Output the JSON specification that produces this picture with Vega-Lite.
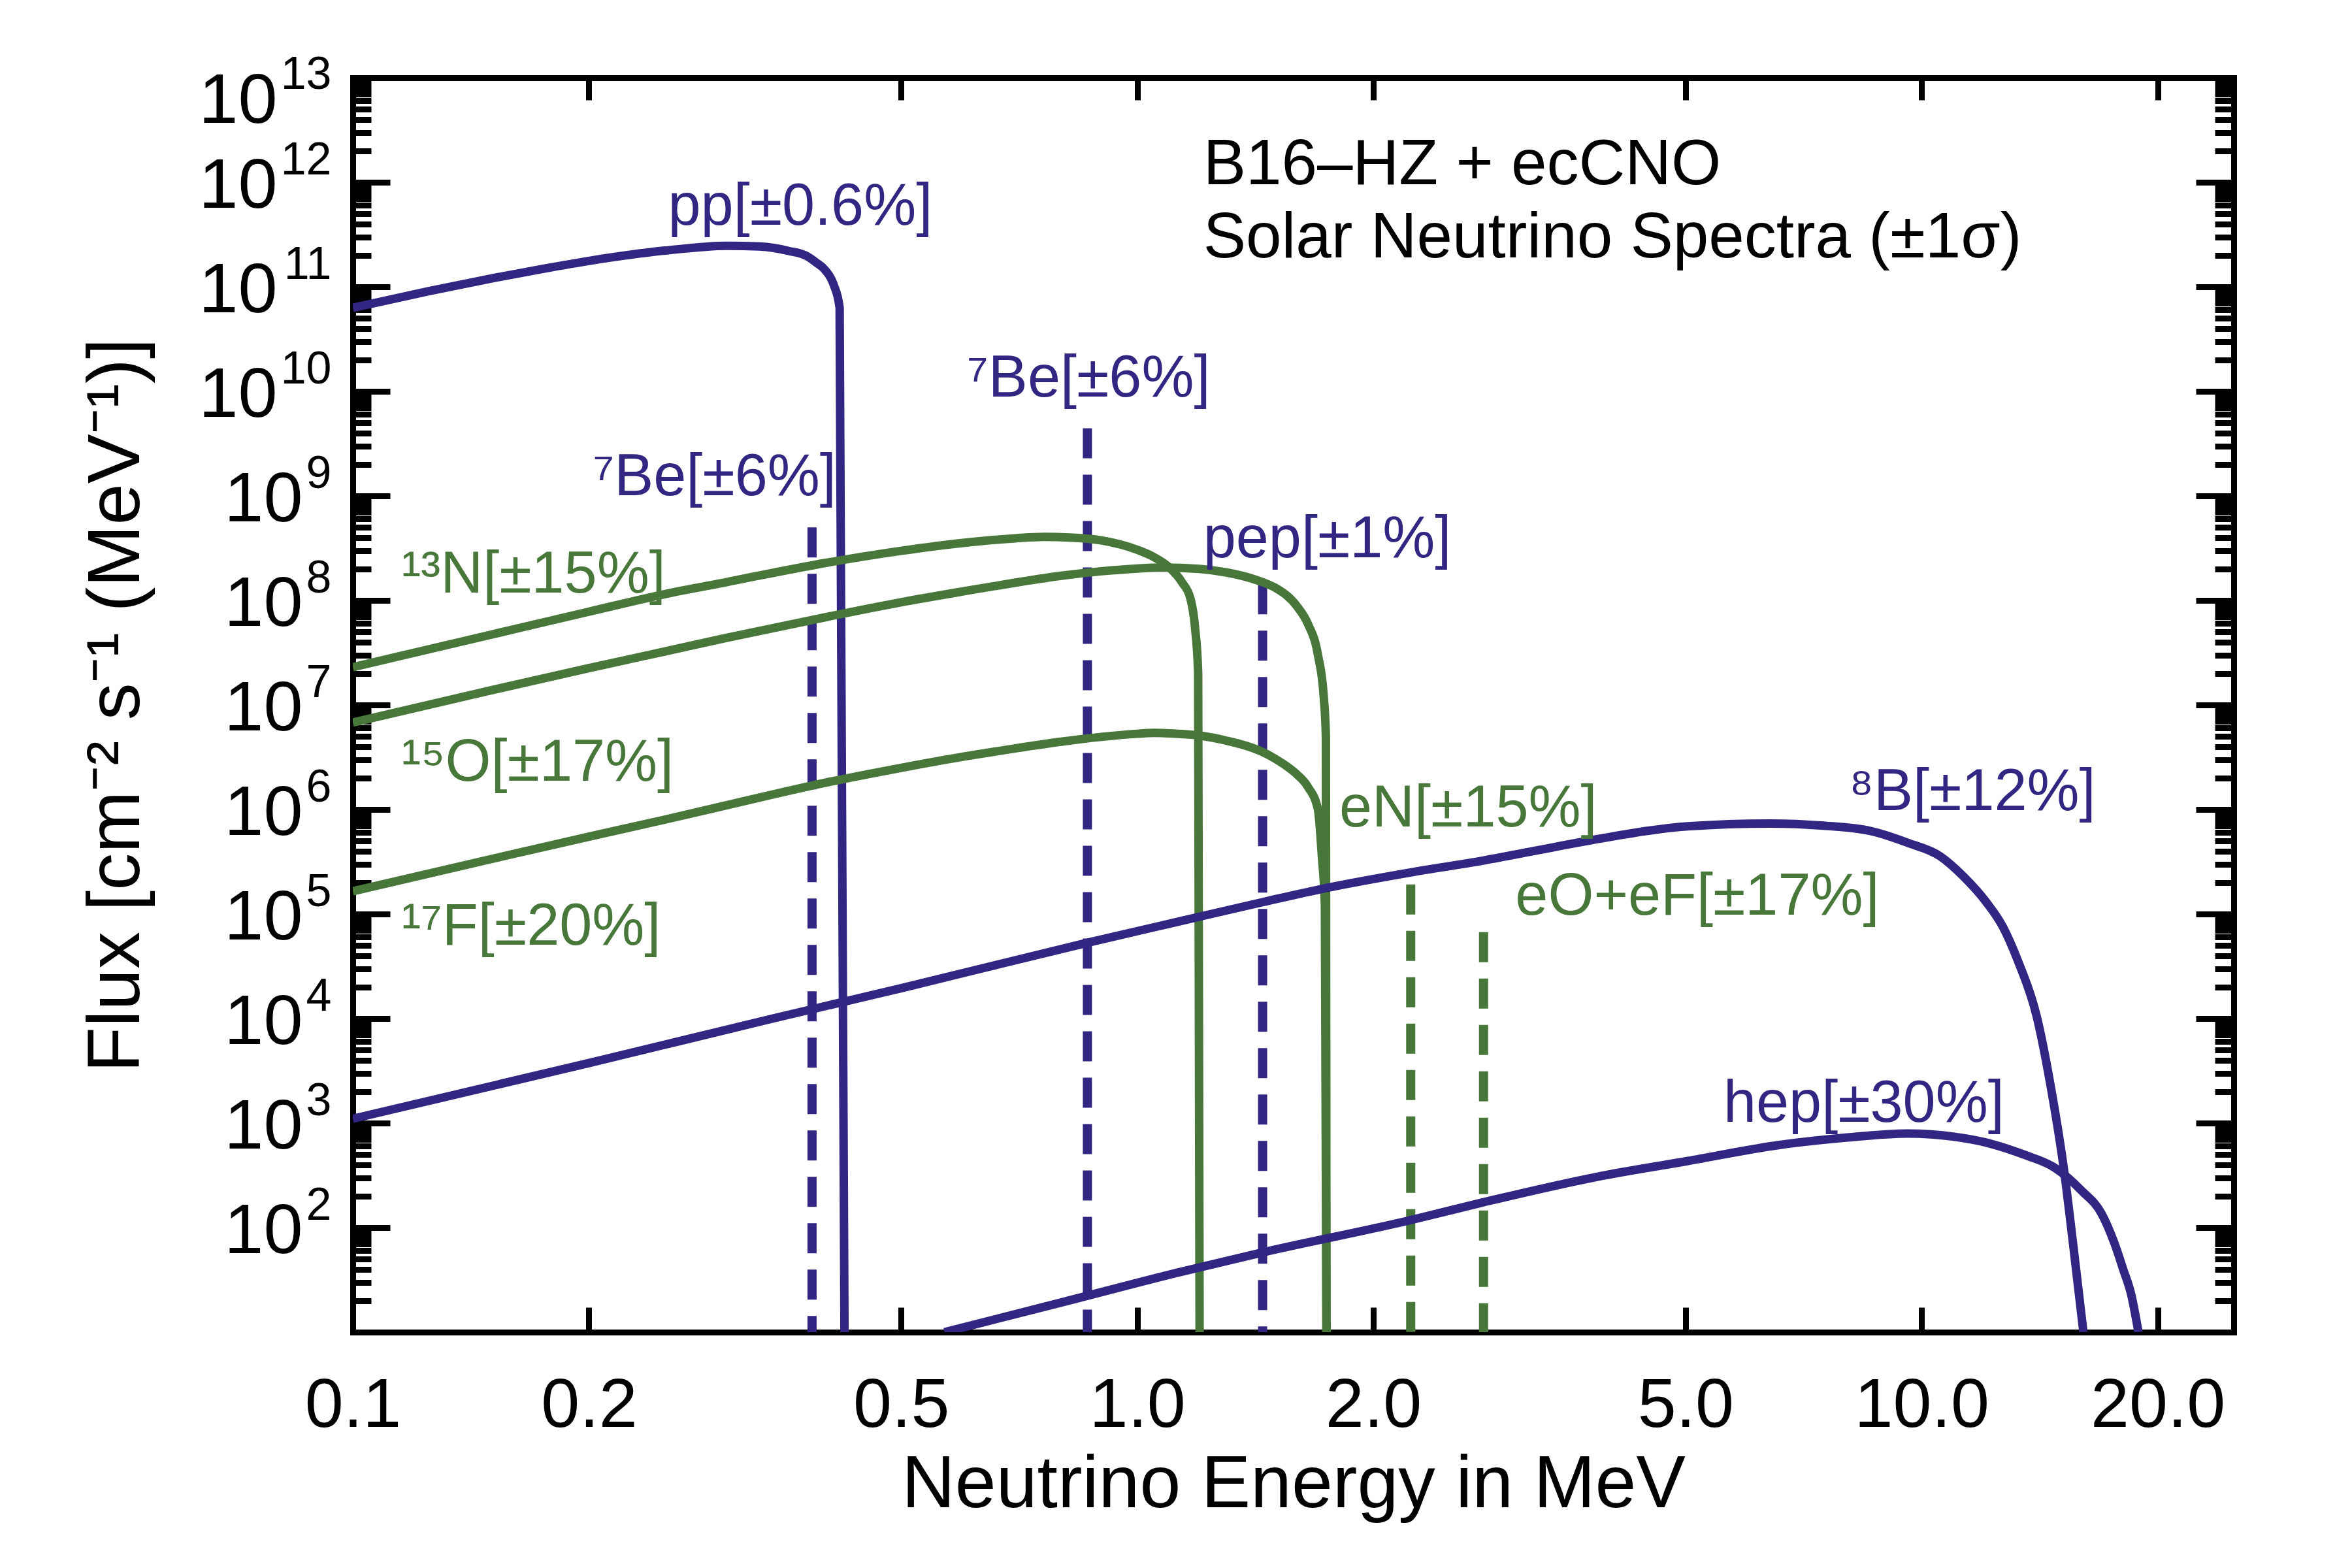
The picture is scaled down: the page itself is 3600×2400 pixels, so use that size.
{
  "$schema": "https://vega.github.io/schema/vega-lite/v6.json",
  "width": 2879,
  "height": 1920,
  "autosize": {"type": "none"},
  "padding": {"left": 540, "top": 119, "right": 181, "bottom": 361},
  "background": "white",
  "config": {
    "view": {"stroke": null},
    "font": "Liberation Sans",
    "axis": {
      "grid": false,
      "domainColor": "black",
      "domainWidth": 9,
      "domainCap": "square",
      "tickColor": "black",
      "tickWidth": 9,
      "labelColor": "black",
      "labelFont": "Liberation Sans",
      "titleFont": "Liberation Sans",
      "titleColor": "black",
      "titleFontWeight": "normal",
      "labelFlush": false,
      "labelOverlap": false,
      "labelBound": false,
      "labelLimit": 0,
      "titleLimit": 0
    }
  },
  "datasets": {
    "curves": [
      {"series": "pp", "group": "pp", "E": 0.1, "F": 6.3e10},
      {"series": "pp", "group": "pp", "E": 0.125, "F": 9.1e10},
      {"series": "pp", "group": "pp", "E": 0.15, "F": 1.2e11},
      {"series": "pp", "group": "pp", "E": 0.175, "F": 1.49e11},
      {"series": "pp", "group": "pp", "E": 0.2, "F": 1.77e11},
      {"series": "pp", "group": "pp", "E": 0.25, "F": 2.22e11},
      {"series": "pp", "group": "pp", "E": 0.3, "F": 2.47e11},
      {"series": "pp", "group": "pp", "E": 0.33, "F": 2.43e11},
      {"series": "pp", "group": "pp", "E": 0.36, "F": 2.2e11},
      {"series": "pp", "group": "pp", "E": 0.38, "F": 1.95e11},
      {"series": "pp", "group": "pp", "E": 0.39, "F": 1.7e11},
      {"series": "pp", "group": "pp", "E": 0.4, "F": 1.45e11},
      {"series": "pp", "group": "pp", "E": 0.41, "F": 1.06e11},
      {"series": "pp", "group": "pp", "E": 0.4175, "F": 6.3e10},
      {"series": "pp", "group": "pp", "E": 0.4235, "F": 10},

      {"series": "13N", "group": "CNO", "E": 0.1, "F": 2.3e7},
      {"series": "13N", "group": "CNO", "E": 0.15, "F": 4.7e7},
      {"series": "13N", "group": "CNO", "E": 0.2, "F": 7.8e7},
      {"series": "13N", "group": "CNO", "E": 0.25, "F": 1.15e8},
      {"series": "13N", "group": "CNO", "E": 0.3, "F": 1.5e8},
      {"series": "13N", "group": "CNO", "E": 0.4, "F": 2.28e8},
      {"series": "13N", "group": "CNO", "E": 0.5, "F": 2.98e8},
      {"series": "13N", "group": "CNO", "E": 0.6, "F": 3.55e8},
      {"series": "13N", "group": "CNO", "E": 0.7, "F": 3.93e8},
      {"series": "13N", "group": "CNO", "E": 0.76, "F": 4.05e8},
      {"series": "13N", "group": "CNO", "E": 0.82, "F": 4.0e8},
      {"series": "13N", "group": "CNO", "E": 0.9, "F": 3.75e8},
      {"series": "13N", "group": "CNO", "E": 1.0, "F": 3.05e8},
      {"series": "13N", "group": "CNO", "E": 1.05, "F": 2.6e8},
      {"series": "13N", "group": "CNO", "E": 1.1, "F": 2.05e8},
      {"series": "13N", "group": "CNO", "E": 1.14, "F": 1.5e8},
      {"series": "13N", "group": "CNO", "E": 1.17, "F": 1.02e8},
      {"series": "13N", "group": "CNO", "E": 1.185, "F": 5.5e7},
      {"series": "13N", "group": "CNO", "E": 1.196, "F": 2.0e7},
      {"series": "13N", "group": "CNO", "E": 1.201, "F": 10},

      {"series": "15O", "group": "CNO", "E": 0.1, "F": 6.8e6},
      {"series": "15O", "group": "CNO", "E": 0.15, "F": 1.38e7},
      {"series": "15O", "group": "CNO", "E": 0.2, "F": 2.25e7},
      {"series": "15O", "group": "CNO", "E": 0.25, "F": 3.25e7},
      {"series": "15O", "group": "CNO", "E": 0.3, "F": 4.4e7},
      {"series": "15O", "group": "CNO", "E": 0.4, "F": 6.9e7},
      {"series": "15O", "group": "CNO", "E": 0.5, "F": 9.6e7},
      {"series": "15O", "group": "CNO", "E": 0.6, "F": 1.22e8},
      {"series": "15O", "group": "CNO", "E": 0.7, "F": 1.48e8},
      {"series": "15O", "group": "CNO", "E": 0.8, "F": 1.72e8},
      {"series": "15O", "group": "CNO", "E": 0.9, "F": 1.9e8},
      {"series": "15O", "group": "CNO", "E": 1.0, "F": 2.02e8},
      {"series": "15O", "group": "CNO", "E": 1.08, "F": 2.06e8},
      {"series": "15O", "group": "CNO", "E": 1.2, "F": 2.0e8},
      {"series": "15O", "group": "CNO", "E": 1.3, "F": 1.85e8},
      {"series": "15O", "group": "CNO", "E": 1.4, "F": 1.62e8},
      {"series": "15O", "group": "CNO", "E": 1.45, "F": 1.48e8},
      {"series": "15O", "group": "CNO", "E": 1.5, "F": 1.32e8},
      {"series": "15O", "group": "CNO", "E": 1.6, "F": 8.7e7},
      {"series": "15O", "group": "CNO", "E": 1.65, "F": 6.0e7},
      {"series": "15O", "group": "CNO", "E": 1.7, "F": 3.0e7},
      {"series": "15O", "group": "CNO", "E": 1.729, "F": 1.2e7},
      {"series": "15O", "group": "CNO", "E": 1.74, "F": 5e6},
      {"series": "15O", "group": "CNO", "E": 1.743, "F": 10},

      {"series": "17F", "group": "CNO", "E": 0.1, "F": 1.65e5},
      {"series": "17F", "group": "CNO", "E": 0.15, "F": 3.35e5},
      {"series": "17F", "group": "CNO", "E": 0.2, "F": 5.5e5},
      {"series": "17F", "group": "CNO", "E": 0.25, "F": 8.0e5},
      {"series": "17F", "group": "CNO", "E": 0.3, "F": 1.1e6},
      {"series": "17F", "group": "CNO", "E": 0.4, "F": 1.8e6},
      {"series": "17F", "group": "CNO", "E": 0.5, "F": 2.5e6},
      {"series": "17F", "group": "CNO", "E": 0.6, "F": 3.2e6},
      {"series": "17F", "group": "CNO", "E": 0.7, "F": 3.85e6},
      {"series": "17F", "group": "CNO", "E": 0.8, "F": 4.45e6},
      {"series": "17F", "group": "CNO", "E": 0.9, "F": 4.95e6},
      {"series": "17F", "group": "CNO", "E": 1.0, "F": 5.3e6},
      {"series": "17F", "group": "CNO", "E": 1.05, "F": 5.4e6},
      {"series": "17F", "group": "CNO", "E": 1.1, "F": 5.35e6},
      {"series": "17F", "group": "CNO", "E": 1.2, "F": 5.1e6},
      {"series": "17F", "group": "CNO", "E": 1.3, "F": 4.55e6},
      {"series": "17F", "group": "CNO", "E": 1.4, "F": 3.9e6},
      {"series": "17F", "group": "CNO", "E": 1.45, "F": 3.5e6},
      {"series": "17F", "group": "CNO", "E": 1.5, "F": 3.05e6},
      {"series": "17F", "group": "CNO", "E": 1.55, "F": 2.6e6},
      {"series": "17F", "group": "CNO", "E": 1.6, "F": 2.15e6},
      {"series": "17F", "group": "CNO", "E": 1.65, "F": 1.65e6},
      {"series": "17F", "group": "CNO", "E": 1.7, "F": 1.0e6},
      {"series": "17F", "group": "CNO", "E": 1.72, "F": 3.5e5},
      {"series": "17F", "group": "CNO", "E": 1.735, "F": 1.2e5},
      {"series": "17F", "group": "CNO", "E": 1.743, "F": 10},

      {"series": "8B", "group": "pp", "E": 0.1, "F": 1.1e3},
      {"series": "8B", "group": "pp", "E": 0.2, "F": 3.75e3},
      {"series": "8B", "group": "pp", "E": 0.343, "F": 1.0e4},
      {"series": "8B", "group": "pp", "E": 0.5, "F": 1.95e4},
      {"series": "8B", "group": "pp", "E": 0.863, "F": 5.3e4},
      {"series": "8B", "group": "pp", "E": 1.124, "F": 8.4e4},
      {"series": "8B", "group": "pp", "E": 1.446, "F": 1.3e5},
      {"series": "8B", "group": "pp", "E": 1.74, "F": 1.77e5},
      {"series": "8B", "group": "pp", "E": 2.232, "F": 2.5e5},
      {"series": "8B", "group": "pp", "E": 2.764, "F": 3.25e5},
      {"series": "8B", "group": "pp", "E": 3.2, "F": 4.0e5},
      {"series": "8B", "group": "pp", "E": 3.8, "F": 5.1e5},
      {"series": "8B", "group": "pp", "E": 5.035, "F": 6.9e5},
      {"series": "8B", "group": "pp", "E": 6.4, "F": 7.35e5},
      {"series": "8B", "group": "pp", "E": 7.5, "F": 7.0e5},
      {"series": "8B", "group": "pp", "E": 8.63, "F": 6.2e5},
      {"series": "8B", "group": "pp", "E": 9.6, "F": 4.8e5},
      {"series": "8B", "group": "pp", "E": 10.56, "F": 3.57e5},
      {"series": "8B", "group": "pp", "E": 11.3, "F": 2.3e5},
      {"series": "8B", "group": "pp", "E": 12.09, "F": 1.3e5},
      {"series": "8B", "group": "pp", "E": 12.7, "F": 7.5e4},
      {"series": "8B", "group": "pp", "E": 13.28, "F": 3.5e4},
      {"series": "8B", "group": "pp", "E": 14.02, "F": 1.05e4},
      {"series": "8B", "group": "pp", "E": 14.6, "F": 2.3e3},
      {"series": "8B", "group": "pp", "E": 15.19, "F": 355},
      {"series": "8B", "group": "pp", "E": 15.61, "F": 67},
      {"series": "8B", "group": "pp", "E": 16.08, "F": 10},

      {"series": "hep", "group": "pp", "E": 0.568, "F": 10},
      {"series": "hep", "group": "pp", "E": 0.8, "F": 19.2},
      {"series": "hep", "group": "pp", "E": 1.124, "F": 37},
      {"series": "hep", "group": "pp", "E": 1.446, "F": 58},
      {"series": "hep", "group": "pp", "E": 2.232, "F": 118},
      {"series": "hep", "group": "pp", "E": 2.764, "F": 175},
      {"series": "hep", "group": "pp", "E": 3.846, "F": 305},
      {"series": "hep", "group": "pp", "E": 5.035, "F": 434},
      {"series": "hep", "group": "pp", "E": 6.59, "F": 618},
      {"series": "hep", "group": "pp", "E": 8.0, "F": 725},
      {"series": "hep", "group": "pp", "E": 9.6, "F": 794},
      {"series": "hep", "group": "pp", "E": 11.0, "F": 740},
      {"series": "hep", "group": "pp", "E": 12.09, "F": 650},
      {"series": "hep", "group": "pp", "E": 13.5, "F": 500},
      {"series": "hep", "group": "pp", "E": 14.8, "F": 372},
      {"series": "hep", "group": "pp", "E": 16.0, "F": 225},
      {"series": "hep", "group": "pp", "E": 16.96, "F": 136},
      {"series": "hep", "group": "pp", "E": 17.6, "F": 72},
      {"series": "hep", "group": "pp", "E": 18.07, "F": 40},
      {"series": "hep", "group": "pp", "E": 18.5, "F": 23},
      {"series": "hep", "group": "pp", "E": 18.9, "F": 10}
    ],
    "lines": [
      {"line": "7Be 0.384", "group": "pp", "E": 0.385, "F": 5.0e8},
      {"line": "7Be 0.862", "group": "pp", "E": 0.864, "F": 4.44e9},
      {"line": "pep", "group": "pp", "E": 1.445, "F": 1.43e8},
      {"line": "eN", "group": "CNO", "E": 2.232, "F": 1.92e5},
      {"line": "eO+eF", "group": "CNO", "E": 2.764, "F": 6.7e4}
    ],
    "labels": [
      {"label": "pp[±0.6%]", "group": "pp", "E": 0.2523, "F": 3.93e11},
      {"label": "⁷Be[±6%]", "group": "pp", "E": 0.2024, "F": 1.02e9},
      {"label": "⁷Be[±6%]", "group": "pp", "E": 0.607, "F": 8.9e9},
      {"label": "pep[±1%]", "group": "pp", "E": 1.214, "F": 2.6e8},
      {"label": "¹³N[±15%]", "group": "CNO", "E": 0.1153, "F": 1.19e8},
      {"label": "¹⁵O[±17%]", "group": "CNO", "E": 0.1153, "F": 1.88e6},
      {"label": "¹⁷F[±20%]", "group": "CNO", "E": 0.1153, "F": 5.08e4},
      {"label": "eN[±15%]", "group": "CNO", "E": 1.81, "F": 6.9e5},
      {"label": "eO+eF[±17%]", "group": "CNO", "E": 3.034, "F": 9.9e4},
      {"label": "⁸B[±12%]", "group": "pp", "E": 8.08, "F": 9.8e5},
      {"label": "hep[±30%]", "group": "pp", "E": 5.59, "F": 1.03e3}
    ],
    "notes": [
      {"text": "B16–HZ + ecCNO", "E": 1.214, "F": 9.57e11},
      {"text": "Solar Neutrino Spectra (±1σ)", "E": 1.214, "F": 1.91e11}
    ]
  },
  "resolve": {"axis": {"x": "independent", "y": "independent"}},
  "layer": [
    {
      "data": {"name": "lines"},
      "mark": {"type": "rule", "strokeWidth": 14, "strokeDash": [46, 25]},
      "encoding": {
        "x": {
          "field": "E", "type": "quantitative",
          "scale": {"type": "log", "domain": [0.1, 25], "nice": false},
          "axis": {"orient": "top", "values": [0.2, 0.5, 1, 2, 5, 10, 20], "labels": false, "tickSize": -34, "title": null}
        },
        "y": {"field": "F", "type": "quantitative", "scale": {"type": "log", "domain": [10, 1e13], "nice": false}, "axis": null},
        "y2": {"datum": 10},
        "color": {"field": "group", "type": "nominal", "scale": {"domain": ["pp", "CNO"], "range": ["#312783", "#48773A"]}, "legend": null}
      }
    },
    {
      "data": {"name": "curves"},
      "mark": {"type": "line", "strokeWidth": 13, "strokeJoin": "round", "interpolate": "monotone", "clip": true},
      "encoding": {
        "x": {
          "field": "E", "type": "quantitative",
          "scale": {"type": "log", "domain": [0.1, 25], "nice": false},
          "axis": {
            "orient": "bottom",
            "values": [0.1, 0.2, 0.5, 1, 2, 5, 10, 20],
            "format": ".1f",
            "tickSize": -38,
            "labelFontSize": 106,
            "labelPadding": 98,
            "title": "Neutrino Energy in MeV",
            "titleFontSize": 113,
            "titleX": 1439.5,
            "titleY": 267,
            "titleAngle": 0,
            "titleAlign": "center",
            "titleBaseline": "alphabetic"
          }
        },
        "y": {
          "field": "F", "type": "quantitative",
          "scale": {"type": "log", "domain": [10, 1e13], "nice": false},
          "axis": {
            "orient": "left",
            "values": [1e1, 2e1, 3e1, 4e1, 5e1, 6e1, 7e1, 8e1, 9e1, 1e2, 2e2, 3e2, 4e2, 5e2, 6e2, 7e2, 8e2, 9e2, 1e3, 2e3, 3e3, 4e3, 5e3, 6e3, 7e3, 8e3, 9e3, 1e4, 2e4, 3e4, 4e4, 5e4, 6e4, 7e4, 8e4, 9e4, 1e5, 2e5, 3e5, 4e5, 5e5, 6e5, 7e5, 8e5, 9e5, 1e6, 2e6, 3e6, 4e6, 5e6, 6e6, 7e6, 8e6, 9e6, 1e7, 2e7, 3e7, 4e7, 5e7, 6e7, 7e7, 8e7, 9e7, 1e8, 2e8, 3e8, 4e8, 5e8, 6e8, 7e8, 8e8, 9e8, 1e9, 2e9, 3e9, 4e9, 5e9, 6e9, 7e9, 8e9, 9e9, 1e10, 2e10, 3e10, 4e10, 5e10, 6e10, 7e10, 8e10, 9e10, 1e11, 2e11, 3e11, 4e11, 5e11, 6e11, 7e11, 8e11, 9e11, 1e12, 2e12, 3e12, 4e12, 5e12, 6e12, 7e12, 8e12, 9e12, 1e13],
            "tickSize": {"condition": {"test": "abs(log(datum.value)/LN10 - round(log(datum.value)/LN10)) < 0.001", "value": -57}, "value": -28},
            "labelExpr": "abs(log(datum.value)/LN10 - round(log(datum.value)/LN10)) < 0.001 && datum.value > 50 ? '10' : ''",
            "labelFontSize": 108,
            "labelAlign": "right",
            "labelBaseline": "middle",
            "labelPadding": {"condition": {"test": "datum.value > 5e9", "value": 173}, "value": 134},
            "labelOffset": {"condition": {"test": "datum.value > 5e12", "value": 36}, "value": 6},
            "title": "Flux [cm⁻² s⁻¹ (MeV⁻¹)]",
            "titleFontSize": 114,
            "titleX": -328,
            "titleY": 960,
            "titleAngle": 270,
            "titleAlign": "center",
            "titleBaseline": "alphabetic"
          }
        },
        "detail": {"field": "series"},
        "color": {"field": "group", "type": "nominal", "scale": {"domain": ["pp", "CNO"], "range": ["#312783", "#48773A"]}, "legend": null}
      }
    },
    {
      "data": {"name": "labels"},
      "mark": {"type": "text", "align": "left", "baseline": "alphabetic", "fontSize": 90, "font": "Liberation Sans"},
      "encoding": {
        "x": {"field": "E", "type": "quantitative", "scale": {"type": "log", "domain": [0.1, 25], "nice": false}, "axis": null},
        "y": {
          "field": "F", "type": "quantitative",
          "scale": {"type": "log", "domain": [10, 1e13], "nice": false},
          "axis": {
            "orient": "right",
            "values": [1e1, 2e1, 3e1, 4e1, 5e1, 6e1, 7e1, 8e1, 9e1, 1e2, 2e2, 3e2, 4e2, 5e2, 6e2, 7e2, 8e2, 9e2, 1e3, 2e3, 3e3, 4e3, 5e3, 6e3, 7e3, 8e3, 9e3, 1e4, 2e4, 3e4, 4e4, 5e4, 6e4, 7e4, 8e4, 9e4, 1e5, 2e5, 3e5, 4e5, 5e5, 6e5, 7e5, 8e5, 9e5, 1e6, 2e6, 3e6, 4e6, 5e6, 6e6, 7e6, 8e6, 9e6, 1e7, 2e7, 3e7, 4e7, 5e7, 6e7, 7e7, 8e7, 9e7, 1e8, 2e8, 3e8, 4e8, 5e8, 6e8, 7e8, 8e8, 9e8, 1e9, 2e9, 3e9, 4e9, 5e9, 6e9, 7e9, 8e9, 9e9, 1e10, 2e10, 3e10, 4e10, 5e10, 6e10, 7e10, 8e10, 9e10, 1e11, 2e11, 3e11, 4e11, 5e11, 6e11, 7e11, 8e11, 9e11, 1e12, 2e12, 3e12, 4e12, 5e12, 6e12, 7e12, 8e12, 9e12, 1e13],
            "tickSize": {"condition": {"test": "abs(log(datum.value)/LN10 - round(log(datum.value)/LN10)) < 0.001", "value": -58}, "value": -29},
            "labels": false,
            "title": null
          }
        },
        "text": {"field": "label"},
        "color": {"field": "group", "type": "nominal", "scale": {"domain": ["pp", "CNO"], "range": ["#312783", "#48773A"]}, "legend": null}
      }
    },
    {
      "data": {"name": "notes"},
      "mark": {"type": "text", "align": "left", "baseline": "alphabetic", "fontSize": 98, "font": "Liberation Sans", "color": "black"},
      "encoding": {
        "x": {"field": "E", "type": "quantitative", "scale": {"type": "log", "domain": [0.1, 25], "nice": false}, "axis": null},
        "y": {
          "field": "F", "type": "quantitative",
          "scale": {"type": "log", "domain": [10, 1e13], "nice": false},
          "axis": {
            "orient": "left",
            "values": [1e2, 1e3, 1e4, 1e5, 1e6, 1e7, 1e8, 1e9, 1e10, 1e11, 1e12, 1e13],
            "ticks": false,
            "domain": false,
            "labelExpr": "format(round(log(datum.value)/LN10), 'd')",
            "labelFontSize": 70,
            "labelAlign": "right",
            "labelBaseline": "middle",
            "labelPadding": 33,
            "labelOffset": {"condition": {"test": "datum.value > 5e12", "value": -5}, "value": -34},
            "title": null
          }
        },
        "text": {"field": "text"}
      }
    }
  ]
}
